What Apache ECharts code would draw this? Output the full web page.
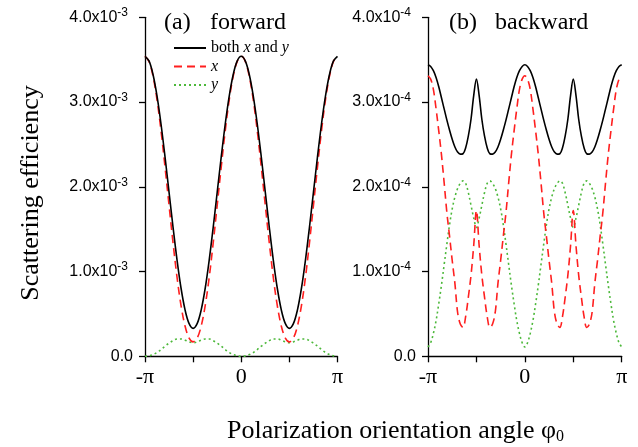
<!DOCTYPE html>
<html><head><meta charset="utf-8">
<script src="https://cdn.jsdelivr.net/npm/echarts@6/dist/echarts.min.js"></script>
<style>html,body{margin:0;padding:0;background:#fff}#c{width:638px;height:447px}</style>
</head><body><div id="c"></div>
<script>
// Series names
const seriesNames = ['both x and y', 'x', 'y'];

// Angle grids (degrees, -180..180)
const fwdAngles = []; for (let k = 0; k <= 48; k++) fwdAngles.push(-180 + k * 7.5);
const bwdAngles = []; for (let k = 0; k <= 72; k++) bwdAngles.push(-180 + k * 5);

// (a) forward, units of 1e-3
const fwdBoth = [3.54,3.485,3.325,3.07,2.738,2.35,1.935,1.52,1.133,0.80,0.545,0.385,0.33,0.385,0.545,0.80,1.133,1.52,1.935,2.35,2.738,3.07,3.325,3.485,
                 3.54,3.485,3.325,3.07,2.738,2.35,1.935,1.52,1.133,0.80,0.545,0.385,0.33,0.385,0.545,0.80,1.133,1.52,1.935,2.35,2.738,3.07,3.325,3.485,3.54];
const fwdX    = [3.54,3.48,3.305,3.025,2.658,2.23,1.78,1.335,0.928,0.595,0.355,0.215,0.17,0.215,0.355,0.595,0.928,1.335,1.78,2.23,2.658,3.025,3.305,3.48,
                 3.54,3.48,3.305,3.025,2.658,2.23,1.78,1.335,0.928,0.595,0.355,0.215,0.17,0.215,0.355,0.595,0.928,1.335,1.78,2.23,2.658,3.025,3.305,3.48,3.54];
const fwdY    = [0,0.005,0.02,0.045,0.08,0.12,0.155,0.185,0.205,0.205,0.19,0.17,0.16,0.17,0.19,0.205,0.205,0.185,0.155,0.12,0.08,0.045,0.02,0.005,
                 0,0.005,0.02,0.045,0.08,0.12,0.155,0.185,0.205,0.205,0.19,0.17,0.16,0.17,0.19,0.205,0.205,0.185,0.155,0.12,0.08,0.045,0.02,0.005,0];

// (b) backward, units of 1e-4
const bwdBoth = [3.44,3.42,3.37,3.29,3.18,3.05,2.92,2.79,2.67,2.56,2.47,2.41,2.385,2.39,2.46,2.60,2.80,3.08,3.27,3.08,2.80,2.60,2.46,2.39,2.385,2.41,2.47,2.56,2.67,2.79,2.92,3.05,3.18,3.29,3.37,3.42,
                 3.44,3.42,3.37,3.29,3.18,3.05,2.92,2.79,2.67,2.56,2.47,2.41,2.385,2.39,2.46,2.60,2.80,3.08,3.27,3.08,2.80,2.60,2.46,2.39,2.385,2.41,2.47,2.56,2.67,2.79,2.92,3.05,3.18,3.29,3.37,3.42,3.44];
const bwdX    = [3.31,3.27,3.15,2.92,2.66,2.38,2.05,1.70,1.42,1.13,0.86,0.52,0.38,0.34,0.47,0.70,0.96,1.31,1.72,1.31,0.96,0.70,0.47,0.34,0.38,0.52,0.86,1.13,1.42,1.70,2.05,2.38,2.66,2.92,3.15,3.27,
                 3.31,3.27,3.15,2.92,2.66,2.38,2.05,1.70,1.42,1.13,0.86,0.52,0.38,0.34,0.47,0.70,0.96,1.31,1.72,1.31,0.96,0.70,0.47,0.34,0.38,0.52,0.86,1.13,1.42,1.70,2.05,2.38,2.66,2.92,3.15,3.27,3.31];
const bwdY    = [0.11,0.16,0.27,0.42,0.62,0.84,1.08,1.32,1.55,1.74,1.88,1.98,2.04,2.07,2.04,1.93,1.78,1.63,1.52,1.63,1.78,1.93,2.04,2.07,2.04,1.98,1.88,1.74,1.55,1.32,1.08,0.84,0.62,0.42,0.27,0.16,
                 0.11,0.16,0.27,0.42,0.62,0.84,1.08,1.32,1.55,1.74,1.88,1.98,2.04,2.07,2.04,1.93,1.78,1.63,1.52,1.63,1.78,1.93,2.04,2.07,2.04,1.98,1.88,1.74,1.55,1.32,1.08,0.84,0.62,0.42,0.27,0.16,0.11];

// Tick labels
const xTickLabels = { '-180': '-π', '0': '0', '180': 'π' };
const yExponents = ['-3', '-4'];

const serif = '"Liberation Serif", "Times New Roman", serif';
const sans = '"Liberation Sans", Arial, sans-serif';
const colors = ['#000000', '#ff1f1f', '#4cb83a'];
const lineTypes = ['solid', [8, 5], [2, 3]];

function pairs(xs, ys) { return xs.map((x, i) => [x, ys[i]]); }

const grids = [
  { left: 145, top: 17.3, width: 192.5, height: 339 },
  { left: 428, top: 17.3, width: 193.7, height: 339 }
];

function xAxis(i) {
  return {
    type: 'value', gridIndex: i, min: -180, max: 180, interval: 90,
    axisLine: { show: true, onZero: false, lineStyle: { color: '#000', width: 1.3 } },
    axisTick: { show: true, inside: false, length: 6, lineStyle: { color: '#000', width: 1.3 } },
    splitLine: { show: false },
    axisLabel: {
      margin: 10, color: '#000', fontFamily: serif, fontSize: 22,
      formatter: v => xTickLabels[String(Math.round(v))] || ''
    }
  };
}
function yAxis(i) {
  const e = yExponents[i];
  return {
    type: 'value', gridIndex: i, min: 0, max: 4, interval: 1,
    axisLine: { show: true, onZero: false, lineStyle: { color: '#000', width: 1.3 } },
    axisTick: { show: true, inside: false, length: 6, lineStyle: { color: '#000', width: 1.3 } },
    splitLine: { show: false },
    axisLabel: {
      margin: 12, color: '#000',
      formatter: v => v === 0 ? '{m|0.0}' : '{m|' + v.toFixed(1) + 'x10}{s|' + e + '}',
      rich: {
        m: { fontFamily: sans, fontSize: 16, color: '#000' },
        s: { fontFamily: sans, fontSize: 12, color: '#000', padding: [0, 5, 9, 0] }
      }
    }
  };
}

const series = [];
const fwdData = [fwdBoth, fwdX, fwdY];
const bwdData = [bwdBoth, bwdX, bwdY];
[0, 1].forEach(g => {
  const sets = g === 0 ? fwdData : bwdData;
  const ang = g === 0 ? fwdAngles : bwdAngles;
  sets.forEach((vals, j) => {
    series.push({
      type: 'line', name: seriesNames[j], xAxisIndex: g, yAxisIndex: g,
      data: pairs(ang, vals), showSymbol: false, symbol: 'none', smooth: 0.35,
      lineStyle: { color: colors[j], width: 1.6, type: lineTypes[j] },
      itemStyle: { color: colors[j] },
      z: 3 - j
    });
  });
});

const chart = echarts.init(document.getElementById('c'), null, { renderer: 'canvas' });
chart.setOption({
  animation: false,
  backgroundColor: '#fff',
  grid: grids,
  xAxis: [xAxis(0), xAxis(1)],
  yAxis: [yAxis(0), yAxis(1)],
  legend: {
    data: seriesNames, orient: 'vertical', left: 168, top: 35,
    itemWidth: 32, itemHeight: 14, itemGap: 2.5,
    selectedMode: false,
    itemStyle: { opacity: 0 },
    textStyle: { fontFamily: serif, fontSize: 16, color: '#000', lineHeight: 14,
      rich: {
        n: { fontFamily: serif, fontSize: 16, color: '#000', lineHeight: 14 },
        i: { fontFamily: serif, fontSize: 16, fontStyle: 'italic', color: '#000', lineHeight: 14 }
      }
    },
    formatter: name => name === 'both x and y' ? '{n|both }{i|x}{n| and }{i|y}' : '{i|' + name + '}'
  },
  series: series,
  graphic: [
    { type: 'text', left: 164, top: 11, style: { text: '(a)', font: '24px ' + serif, fill: '#000' } },
    { type: 'text', left: 210, top: 11, style: { text: 'forward', font: '24px ' + serif, fill: '#000' } },
    { type: 'text', left: 449, top: 11, style: { text: '(b)', font: '24px ' + serif, fill: '#000' } },
    { type: 'text', left: 495, top: 11, style: { text: 'backward', font: '24px ' + serif, fill: '#000' } },
    { type: 'text', x: 31, y: 193, rotation: Math.PI / 2,
      style: { text: 'Scattering efficiency', font: '26px ' + serif, fill: '#000', align: 'center', verticalAlign: 'middle' } },
    { type: 'text', x: 227, y: 431,
      style: { text: '{a|Polarization orientation angle φ}{b|0}', fill: '#000', align: 'left', verticalAlign: 'middle',
        rich: {
          a: { font: '26px ' + serif, fill: '#000' },
          b: { font: '16px ' + serif, fill: '#000', padding: [12, 0, 0, 0] }
        } } }
  ]
});
</script>
</body></html>
